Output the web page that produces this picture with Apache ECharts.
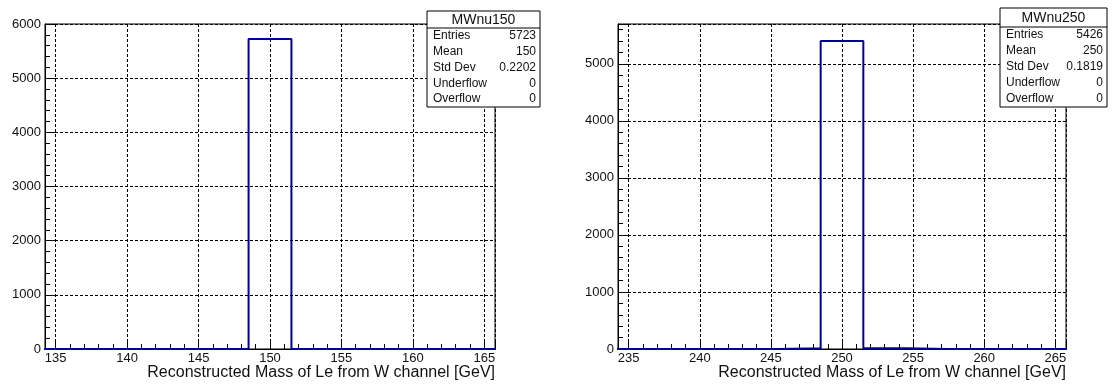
<!DOCTYPE html>
<html>
<head>
<meta charset="utf-8">
<script src="https://cdn.jsdelivr.net/npm/echarts@6/dist/echarts.min.js"></script>
<style>
  html, body { margin: 0; padding: 0; background: #fff; }
  #chart { width: 1116px; height: 384px; }
</style>
</head>
<body>
<div id="chart"></div>
<script>
// Histogram bins (width 3 GeV) and counts for the two mass points
const binEdges150 = [133.5, 136.5, 139.5, 142.5, 145.5, 148.5, 151.5, 154.5, 157.5, 160.5, 163.5, 166.5];
const counts150   = [0, 0, 0, 0, 0, 5723, 0, 0, 0, 0, 0];
const binEdges250 = [233.5, 236.5, 239.5, 242.5, 245.5, 248.5, 251.5, 254.5, 257.5, 260.5, 263.5, 266.5];
const counts250   = [0, 0, 0, 0, 13, 5400, 13, 0, 0, 0, 0];

// Axis ranges
const xRange150 = [134.25, 165.75];
const xRange250 = [234.25, 265.75];
const yMax150 = 6000;
const yMax250 = 5697;

// Statistics boxes
const statNames = ['Entries', 'Mean', 'Std Dev', 'Underflow', 'Overflow'];
const statTitle150 = 'MWnu150';
const statValues150 = ['5723', '150', '0.2202', '0', '0'];
const statTitle250 = 'MWnu250';
const statValues250 = ['5426', '250', '0.1819', '0', '0'];

const xTitle = 'Reconstructed Mass of Le from W channel [GeV]';

const FONT = '"Liberation Sans", Arial, Helvetica, sans-serif';
const LINE_COLOR = '#00009a';
const TEXT_COLOR = '#111';

// Turn bin edges + counts into the outline of a step histogram
function stepPoints(edges, counts) {
  const pts = [];
  for (let i = 0; i < counts.length; i++) {
    pts.push([edges[i], counts[i]]);
    pts.push([edges[i + 1], counts[i]]);
  }
  return pts;
}

function xAxisCfg(gridIndex, range) {
  return {
    type: 'value', gridIndex: gridIndex,
    min: range[0], max: range[1], splitNumber: 6,
    axisLine: { show: true, onZero: false, lineStyle: { color: '#000', width: 1 } },
    axisTick: { show: true, inside: true, length: 9, lineStyle: { color: '#000' } },
    minorTick: { show: true, splitNumber: 5, length: 5, lineStyle: { color: '#000' } },
    splitLine: { show: true, lineStyle: { color: '#000', type: [3, 2], width: 1 } },
    axisLabel: { show: true, color: TEXT_COLOR, fontFamily: FONT, fontSize: 13, margin: 3,
                 showMinLabel: false, showMaxLabel: false,
                 formatter: function (v) { return String(v); } },
    z: 1
  };
}

function yAxisCfg(gridIndex, max, interval) {
  const cfg = {
    type: 'value', gridIndex: gridIndex, min: 0, max: max,
    axisLine: { show: true, lineStyle: { color: '#000', width: 1 } },
    axisTick: { show: true, inside: true, length: 10, lineStyle: { color: '#000' } },
    minorTick: { show: true, splitNumber: 5, length: 5, lineStyle: { color: '#000' } },
    splitLine: { show: true, lineStyle: { color: '#000', type: [3, 2], width: 1 } },
    axisLabel: { show: true, color: TEXT_COLOR, fontFamily: FONT, fontSize: 13, margin: 4,
                 showMaxLabel: max % 1000 === 0,
                 formatter: function (v) { return String(v); } },
    z: 1
  };
  if (interval) cfg.interval = interval; else cfg.splitNumber = 5;
  return cfg;
}

// ROOT-style statistics box drawn above the plot frame
function statsBox(x, y, w, h, sepY, title, values) {
  const Z = 100;
  const children = [
    { type: 'rect', z: Z, shape: { x: x, y: y, width: w, height: h },
      style: { fill: '#fff', stroke: '#000', lineWidth: 1 } },
    { type: 'line', z: Z + 1, shape: { x1: x, y1: sepY, x2: x + w, y2: sepY },
      style: { stroke: '#000', lineWidth: 1 } },
    { type: 'text', z: Z + 1, x: x + w / 2, y: (y + sepY) / 2 + 1,
      style: { text: title, font: '14px ' + FONT, fill: TEXT_COLOR, align: 'center', verticalAlign: 'middle' } }
  ];
  const rowH = (y + h - sepY) / statNames.length;
  statNames.forEach(function (name, i) {
    const cy = sepY + rowH * (i + 0.5);
    children.push({ type: 'text', z: Z + 1, x: x + 6, y: cy,
      style: { text: name, font: '12px ' + FONT, fill: TEXT_COLOR, align: 'left', verticalAlign: 'middle' } });
    children.push({ type: 'text', z: Z + 1, x: x + w - 4, y: cy,
      style: { text: values[i], font: '12px ' + FONT, fill: TEXT_COLOR, align: 'right', verticalAlign: 'middle' } });
  });
  return { type: 'group', children: children };
}

const chart = echarts.init(document.getElementById('chart'), null, { renderer: 'canvas' });

chart.setOption({
  backgroundColor: '#fff',
  animation: false,
  grid: [
    { left: 45, top: 24, width: 450, height: 325, show: true, borderColor: '#000', borderWidth: 1, backgroundColor: 'transparent' },
    { left: 618, top: 24, width: 448, height: 325, show: true, borderColor: '#000', borderWidth: 1, backgroundColor: 'transparent' }
  ],
  xAxis: [xAxisCfg(0, xRange150), xAxisCfg(1, xRange250)],
  yAxis: [yAxisCfg(0, yMax150, 1000), yAxisCfg(1, yMax250, null)],
  series: [
    { type: 'line', xAxisIndex: 0, yAxisIndex: 0, data: stepPoints(binEdges150, counts150),
      symbol: 'none', clip: true, lineStyle: { color: LINE_COLOR, width: 2 }, z: 5 },
    { type: 'line', xAxisIndex: 1, yAxisIndex: 1, data: stepPoints(binEdges250, counts250),
      symbol: 'none', clip: true, lineStyle: { color: LINE_COLOR, width: 2 }, z: 5 }
  ],
  graphic: [
    { type: 'text', x: 495, y: 373, z: 50,
      style: { text: xTitle, font: '16px ' + FONT, fill: TEXT_COLOR, align: 'right', verticalAlign: 'middle' } },
    { type: 'text', x: 1066, y: 373, z: 50,
      style: { text: xTitle, font: '16px ' + FONT, fill: TEXT_COLOR, align: 'right', verticalAlign: 'middle' } },
    statsBox(427, 11, 113, 96, 28, statTitle150, statValues150),
    statsBox(1000, 8, 107, 99, 27, statTitle250, statValues250)
  ]
});
</script>
</body>
</html>
